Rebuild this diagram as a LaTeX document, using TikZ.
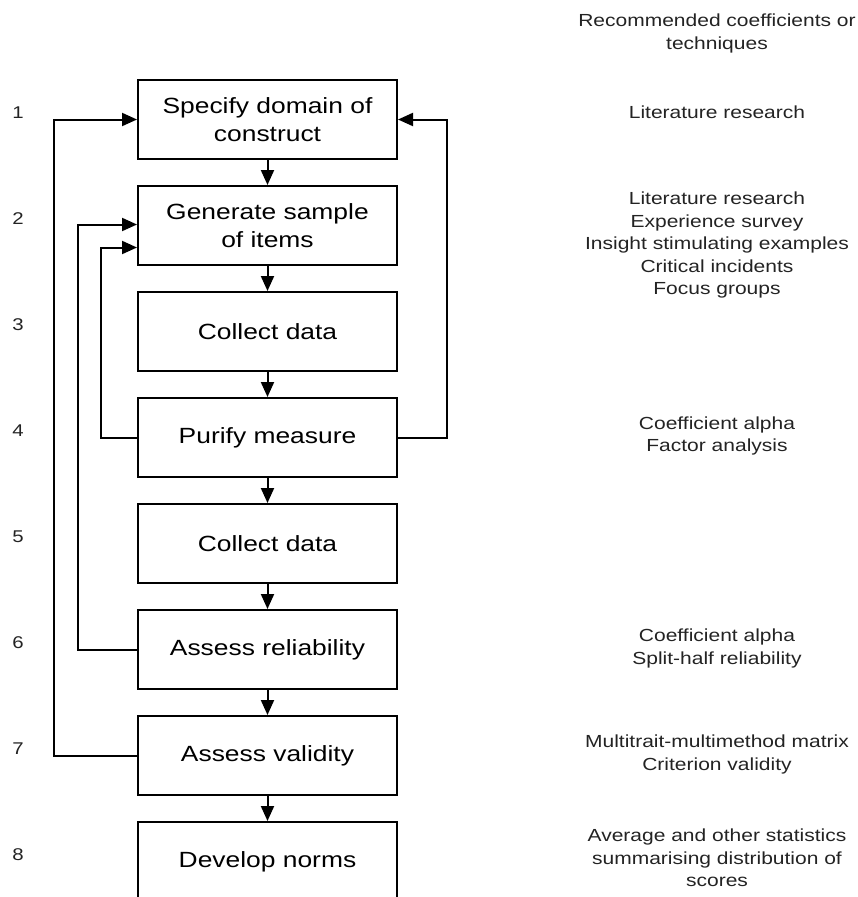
\documentclass[tikz,border=0pt]{standalone}
\usepackage{fontspec}
\setmainfont{Liberation Sans}[FakeStretch=1.2]
\usetikzlibrary{arrows.meta,positioning}
\definecolor{inkgray}{RGB}{35,35,35}
\tikzset{
  stage/.style={draw, line width=2pt, minimum width=259pt, minimum height=79pt,
    align=center, inner sep=0pt, font=\fontsize{22}{28}\selectfont},
  flow/.style={line width=2pt, -{Triangle[length=15pt,width=13pt]}},
  technique/.style={align=center, inner sep=0pt, text=inkgray,
    font=\fontsize{17.5}{22.5}\selectfont},
  rownum/.style={inner sep=0pt, text=inkgray, font=\fontsize{17}{20}\selectfont}
}

\begin{document}
\begin{tikzpicture}[x=1pt, y=1pt]
    \clip (0,0) rectangle (858,-897);

    % Process steps
    \node[stage] (spec) at (267.5,-119.5) {Specify domain of\\construct};
    \node[stage, below=25pt of spec] (gen) {Generate sample\\of items};
    \node[stage, below=25pt of gen] (coll) {Collect data};
    \node[stage, below=25pt of coll] (pur) {Purify measure};
    \node[stage, below=25pt of pur] (collb) {Collect data};
    \node[stage, below=25pt of collb] (rel) {Assess reliability};
    \node[stage, below=25pt of rel] (val) {Assess validity};
    \node[stage, below=25pt of val] (norms) {Develop norms};

    % Main sequence
    \draw[flow] (spec) -- (gen);
    \draw[flow] (gen) -- (coll);
    \draw[flow] (coll) -- (pur);
    \draw[flow] (pur) -- (collb);
    \draw[flow] (collb) -- (rel);
    \draw[flow] (rel) -- (val);
    \draw[flow] (val) -- (norms);

    % Feedback loops
    \draw[flow] (val.west) -- ++(-83,0) |- (spec.west);
    \draw[flow] (rel.west) -- ++(-59,0) |- ([yshift=1pt]gen.west);
    \draw[flow] (pur.west) -- ++(-36,0) |- ([yshift=-22pt]gen.west);
    \draw[flow] (pur.east) -- ++(49,0) |- (spec.east);

    % Step numbers
    \foreach \n in {1,...,8}
        \node[rownum] (num\n) at (18,{-113-(\n-1)*106}) {\n};

    % Recommended coefficients or techniques
    \node[technique] (head) at (717,-33.5) {Recommended coefficients or\\techniques};
    \node[technique] (tspec) at (717,-112) {Literature research};
    \node[technique] (tgen) at (717,-245) {Literature research\\Experience survey\\Insight stimulating examples\\Critical incidents\\Focus groups};
    \node[technique] (tpur) at (717,-436) {Coefficient alpha\\Factor analysis};
    \node[technique] (trel) at (717,-648.5) {Coefficient alpha\\Split-half reliability};
    \node[technique] (tval) at (717,-754.5) {Multitrait-multimethod matrix\\Criterion validity};
    \node[technique] (tnorms) at (717,-858) {Average and other statistics\\summarising distribution of\\scores};
\end{tikzpicture}
\end{document}
